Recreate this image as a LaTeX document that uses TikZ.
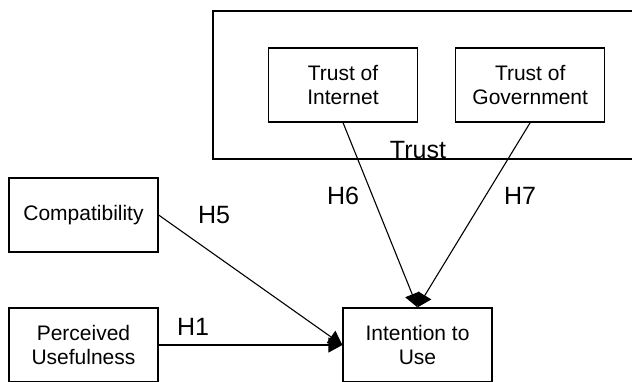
\documentclass[tikz,border=0pt]{standalone}
\usepackage{fontspec}
\setmainfont{Liberation Sans}
\usepackage{tikz}
\usetikzlibrary{arrows.meta,positioning}

\begin{document}
\begin{tikzpicture}[
    x=1pt, y=1pt,
    box/.style={rectangle, draw, line width=1.2pt, minimum width=149pt, minimum height=74pt, align=center, font=\fontsize{21}{23.5}\selectfont},
    hlabel/.style={font=\fontsize{25}{28}\selectfont},
    arrow/.style={-{Triangle[length=14pt,width=15pt]}, line width=1.1pt},
]
\useasboundingbox (0,0) rectangle (632,-381);

% Trust group
\draw[line width=1.2pt] (213,-11) rectangle (660,-159);
\node[box] (internet) at (343,-85) {Trust of\\Internet};
\node[box, right=37pt of internet] (government) {Trust of\\Government};
\node[hlabel, anchor=base] (trust) at (418,-158) {Trust};

% Constructs
\node[box] (compat) at (83.5,-215) {Compatibility};
\node[box] (useful) at (83.5,-345) {Perceived\\Usefulness};
\node[box] (intention) at (417.5,-345) {Intention to\\Use};

% Hypotheses
\draw[arrow] (useful) -- (intention.west);
\draw[arrow] (compat.east) -- (intention.west);
\draw[arrow] (internet.south) -- (intention.north);
\draw[arrow] (government.south) -- (intention.north);

\node[hlabel] (h1) at (193,-327) {H1};
\node[hlabel] (h5) at (214,-215) {H5};
\node[hlabel] (h6) at (343,-196) {H6};
\node[hlabel] (h7) at (520,-196) {H7};

\end{tikzpicture}
\end{document}
